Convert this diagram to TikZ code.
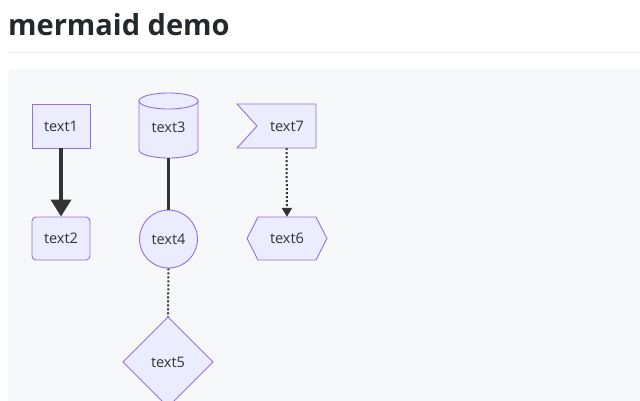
\documentclass[tikz,border=0pt]{standalone}
\usepackage{fontspec}
\setmainfont{Open Sans}
\usetikzlibrary{arrows.meta,shapes.geometric}
\definecolor{nodefill}{HTML}{ECECFF}
\definecolor{nodeline}{HTML}{9370DB}
\definecolor{edgecol}{HTML}{333333}
\definecolor{titlecol}{HTML}{24292E}
\definecolor{panel}{HTML}{F6F8FA}
\definecolor{rule}{HTML}{EAECEF}
\tikzset{
  lbl/.style={font=\fontsize{14.5}{16}\selectfont, text=edgecol, inner sep=0pt},
  shp/.style={fill=nodefill, draw=nodeline, line width=0.9pt},
  thickedge/.style={draw=edgecol, line width=3.5pt},
  dotedge/.style={draw=edgecol, line width=2pt, dash pattern=on 2pt off 2pt},
}
\begin{document}
\begin{tikzpicture}[x=1pt,y=-1pt]
\useasboundingbox (0,0) rectangle (640,400);
\clip (0,0) rectangle (640,400);
\fill[white] (0,0) rectangle (640,400);
% title
\node[anchor=base west, inner sep=0pt, text=titlecol, font=\fontsize{29}{34}\selectfont\bfseries] (title) at (8,35) {mermaid demo};
\draw[rule, line width=1pt] (8,52) -- (640,52);
\fill[panel, rounded corners=6pt] (8,69) rectangle (660,420);

% text1
\node[shp, rectangle, minimum width=58pt, minimum height=44pt] (n1) at (61,126) {};
\node[lbl] at (n1) {text1};
% text2
\node[shp, rectangle, rounded corners=4pt, minimum width=58pt, minimum height=43pt] (n2) at (61,238.5) {};
\node[lbl] at (n2) {text2};
% text3 cylinder
\path[shp] (139,101) -- (139,150) arc[start angle=180, end angle=360, x radius=29.5pt, y radius=8pt] -- (198,101)
  arc[start angle=0, end angle=180, x radius=29.5pt, y radius=8pt] -- cycle;
\draw[nodeline, line width=0.9pt] (139,101) arc[start angle=180, end angle=360, x radius=29.5pt, y radius=8pt];
\node[rectangle, minimum width=59pt, minimum height=65pt, inner sep=0pt] (n3) at (168.5,125.5) {};
\node[lbl] at (168.5,127) {text3};
% text4 circle
\node[shp, circle, minimum size=58pt, inner sep=0pt] (n4) at (168.5,239) {};
\node[lbl] at (n4) {text4};
% text5 diamond
\path[shp] (168,317) -- (213,362) -- (168,407) -- (123,362) -- cycle;
\node[rectangle, minimum width=90pt, minimum height=90pt, inner sep=0pt] (n5) at (168,362) {};
\node[lbl] at (n5) {text5};
% text7 flag
\path[shp] (237,104) -- (316,104) -- (316,148) -- (237,148) -- (257,126) -- cycle;
\node[rectangle, minimum width=79pt, minimum height=44pt, inner sep=0pt] (n7) at (286.5,126) {};
\node[lbl] at (287,126) {text7};
% text6 hexagon
\path[shp] (247,238.5) -- (258,217) -- (316,217) -- (327,238.5) -- (316,260) -- (258,260) -- cycle;
\node[rectangle, minimum width=80pt, minimum height=43pt, inner sep=0pt] (n6) at (287,238.5) {};
\node[lbl] at (n6) {text6};

% edges
\draw[thickedge, -{Triangle[length=17pt,width=20pt]}] (n1.south) -- (n2.north);
\draw[thickedge] (n3.south) -- (n4.north);
\draw[dotedge] (n4.south) -- (n5.north);
\draw[dotedge, -{Triangle[length=9pt,width=10pt]}] (n7.south) -- (n6.north);
\end{tikzpicture}
\end{document}
